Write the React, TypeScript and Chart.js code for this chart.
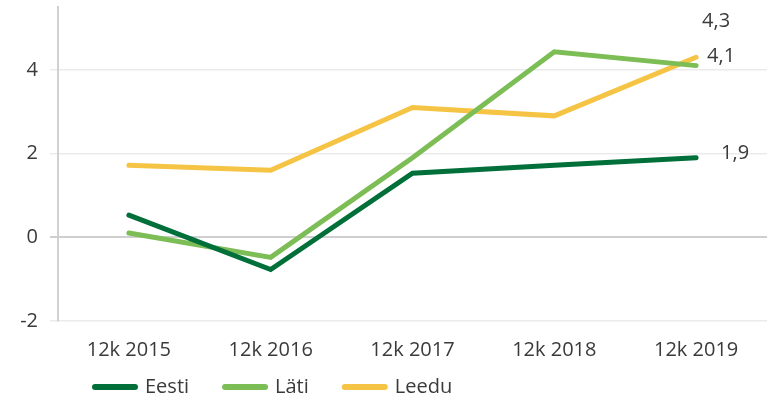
import React, { useEffect, useRef } from "react";
import { Chart, registerables } from "chart.js";

Chart.register(...registerables);

const categories = ["12k 2015", "12k 2016", "12k 2017", "12k 2018", "12k 2019"];
const eesti = [0.53, -0.77, 1.53, 1.72, 1.9];
const lati = [0.1, -0.48, 1.9, 4.43, 4.1];
const leedu = [1.72, 1.6, 3.1, 2.9, 4.3];
const seriesNames = ["Eesti", "Läti", "Leedu"];
const endLabels = ["1,9", "4,1", "4,3"];
const yTicks = [-2, 0, 2, 4];

const colors = ["#006f3a", "#7dbd56", "#f6c445"];
const FONT = "'Open Sans', sans-serif";
const FS = 20;
const TEXT = "#3a3a3a";

// label offsets relative to last point (dx, dy), align
const labelOffsets = [
  { dx: 25, dy: -4, align: "left" },
  { dx: 11, dy: -9, align: "left" },
  { dx: 20, dy: -36, align: "center" },
];

const endLabelPlugin = {
  id: "endLabels",
  afterDatasetsDraw(chart: any) {
    const ctx = chart.ctx;
    ctx.save();
    ctx.font = `${FS}px ${FONT}`;
    ctx.fillStyle = TEXT;
    ctx.textBaseline = "middle";
    chart.data.datasets.forEach((ds: any, i: number) => {
      const meta = chart.getDatasetMeta(i);
      const pt = meta.data[meta.data.length - 1];
      const o = labelOffsets[i];
      ctx.textAlign = o.align;
      ctx.fillText(endLabels[i], pt.x + o.dx, pt.y + o.dy);
    });
    ctx.restore();
  },
};

const legendPlugin = {
  id: "customLegend",
  afterDraw(chart: any) {
    const ctx = chart.ctx;
    const area = chart.chartArea;
    ctx.save();
    ctx.font = `${FS}px ${FONT}`;
    ctx.textBaseline = "middle";
    const y = chart.height - 14;
    let x = area.left + 37;
    seriesNames.forEach((name, i) => {
      ctx.strokeStyle = colors[i];
      ctx.lineWidth = 6;
      ctx.lineCap = "round";
      ctx.beginPath();
      ctx.moveTo(x, y);
      ctx.lineTo(x + 40, y);
      ctx.stroke();
      ctx.fillStyle = TEXT;
      ctx.textAlign = "left";
      const tx = x + 50;
      ctx.fillText(name, tx, y);
      x = tx + ctx.measureText(name).width + 36;
    });
    ctx.restore();
  },
};

export default function App() {
  const ref = useRef<HTMLCanvasElement>(null);
  useEffect(() => {
    document.body.style.margin = "0";
    const data = [eesti, lati, leedu];
    const chart = new Chart(ref.current!, {
      type: "line",
      data: {
        labels: categories,
        datasets: seriesNames.map((n, i) => ({
          label: n,
          data: data[i],
          borderColor: colors[i],
          backgroundColor: colors[i],
          borderWidth: 5,
          borderCapStyle: "round",
          borderJoinStyle: "miter",
          pointRadius: 0,
          tension: 0,
        })),
      },
      options: {
        animation: false,
        responsive: false,
        layout: { padding: { top: 7, right: 2, bottom: 35, left: 0 } },
        plugins: {
          legend: { display: false },
          tooltip: { enabled: false },
        },
        scales: {
          x: {
            offset: true,
            grid: { display: false, drawTicks: false },
            border: { display: false },
            ticks: { font: { family: FONT, size: FS }, color: TEXT, padding: 17, maxRotation: 0 },
            afterFit(scale: any) {
              scale.height = 45;
            },
          },
          y: {
            min: -2,
            max: 5.5,
            afterBuildTicks(scale: any) {
              scale.ticks = yTicks.map((v) => ({ value: v }));
            },
            grid: {
              color: (c: any) => (c.tick && c.tick.value === 0 ? "#cfcfcf" : "#ebebeb"),
              lineWidth: (c: any) => (c.tick && c.tick.value === 0 ? 2 : 1.5),
              tickLength: 8,
              drawTicks: true,
            },
            border: { display: true, color: "#d0d0d0", width: 2 },
            ticks: {
              font: { family: FONT, size: FS },
              color: TEXT,
              padding: 12,
              callback: (v: any) => String(v),
            },
            afterFit(scale: any) {
              scale.width = 58;
              scale.paddingTop = 0;
              scale.paddingBottom = 0;
            },
          },
        },
      },
      plugins: [endLabelPlugin, legendPlugin],
    } as any);
    return () => chart.destroy();
  }, []);
  return (
    <div style={{ position: "absolute", left: 0, top: 0, width: 769, height: 401 }}>
      <canvas ref={ref} width={769} height={401} />
    </div>
  );
}
